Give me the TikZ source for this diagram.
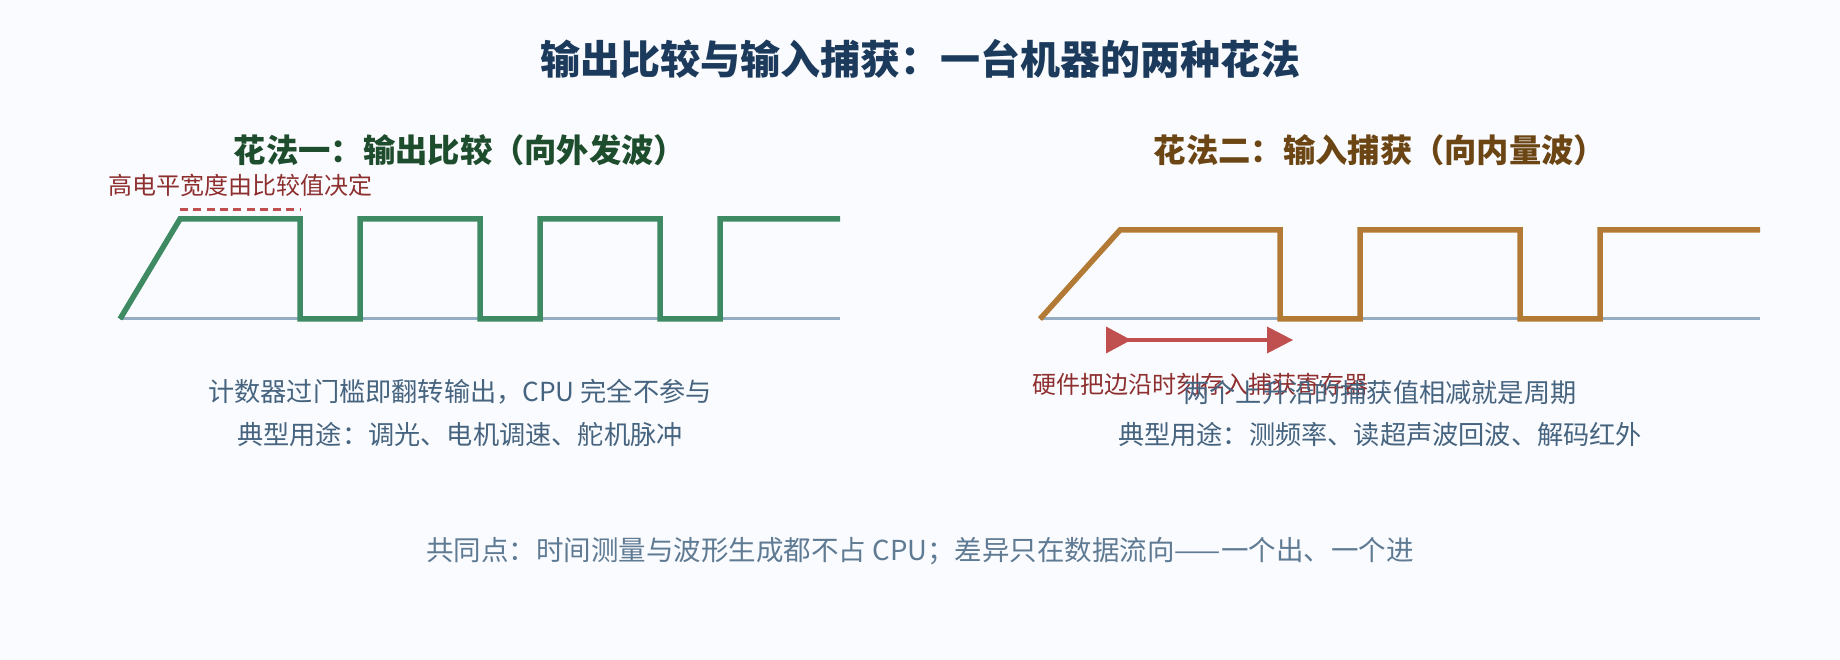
\documentclass[tikz,border=0pt]{standalone}
\usepackage{fontspec}
\setmainfont{Noto Sans CJK SC}
\definecolor{bgc}{HTML}{FAFBFE}
\definecolor{titlec}{HTML}{1B3A5C}
\definecolor{subg}{HTML}{1E4D2E}
\definecolor{subb}{HTML}{6B4513}
\definecolor{waveg}{HTML}{3E8A63}
\definecolor{waveb}{HTML}{B27A34}
\definecolor{basec}{HTML}{94ADC3}
\definecolor{redtxt}{HTML}{8E2F2F}
\definecolor{redln}{HTML}{C0504F}
\definecolor{slate}{HTML}{46647F}
\definecolor{slate2}{HTML}{5F7A93}
\tikzset{
  titletxt/.style={font=\fontsize{40}{46}\selectfont\bfseries, text=titlec, inner sep=0pt},
  subtxt/.style={font=\fontsize{32.3}{36}\selectfont\bfseries, inner sep=0pt},
  notetxt/.style={font=\fontsize{24}{28}\selectfont, text=redtxt, inner sep=0pt},
  bodytxt/.style={font=\fontsize{26.2}{30}\selectfont, text=slate, inner sep=0pt},
  foottxt/.style={font=\fontsize{27.5}{31}\selectfont, text=slate2, inner sep=0pt},
  baseln/.style={draw=basec, line width=3pt},
  wavegreen/.style={draw=waveg, line width=5.5pt, line join=miter},
  wavebrown/.style={draw=waveb, line width=5.5pt, line join=miter},
}
\begin{document}
\begin{tikzpicture}[x=1pt,y=-1pt]
\fill[bgc] (0,0) rectangle (1840,660);
\useasboundingbox (0,0) rectangle (1840,660);

\node[titletxt] (title) at (920,59) {输出比较与输入捕获：一台机器的两种花法};
\node[subtxt, text=subg] (subL) at (460,150) {花法一：输出比较（向外发波）};
\node[subtxt, text=subb] (subR) at (1380,150) {花法二：输入捕获（向内量波）};

% left waveform
\coordinate (bL0) at (120,319);
\coordinate (bL1) at (840,319);
\draw[baseln] (bL0) -- (bL1);
\draw[wavegreen] (120,319) -- (180,219) -- (300,219) -- (300,319) -- (360,319) -- (360,219)
  -- (480,219) -- (480,319) -- (540,319) -- (540,219) -- (660,219) -- (660,319)
  -- (720,319) -- (720,219) -- (840,219);
\coordinate (dA) at (180,210);
\coordinate (dB) at (300,210);
\draw[redln, line width=3pt, dash pattern=on 8pt off 5.3pt] (dA) -- (dB);
\node[notetxt] (noteL) at (240,185) {高电平宽度由比较值决定};

\node[bodytxt] (l1) at (460,392) {计数器过门槛即翻转输出，CPU 完全不参与};
\node[bodytxt] (l2) at (460,434) {典型用途：调光、电机调速、舵机脉冲};

% right waveform
\coordinate (bR0) at (1040,319);
\coordinate (bR1) at (1760,319);
\draw[baseln] (bR0) -- (bR1);
\draw[wavebrown] (1040,319) -- (1120,230) -- (1280,230) -- (1280,319) -- (1360,319) -- (1360,230)
  -- (1520,230) -- (1520,319) -- (1600,319) -- (1600,230) -- (1760,230);

\coordinate (aS) at (1106,340);
\coordinate (aE) at (1280,340);
\draw[redln, line width=4pt] (aS) -- (aE);
\fill[redln] (aS) ++(0,-13.5) -- ++(25,13.5) -- ++(-25,13.5) -- cycle;
\fill[redln] (1267,340) ++(0,-13.5) -- ++(26,13.5) -- ++(-26,13.5) -- cycle;
\node[notetxt] (noteR) at (1200,384) {硬件把边沿时刻存入捕获寄存器};

\node[bodytxt] (r1) at (1380,393) {两个上升沿的捕获值相减就是周期};
\node[bodytxt] (r2) at (1380,434) {典型用途：测频率、读超声波回波、解码红外};

\node[foottxt] (foot) at (920,551) {共同点：时间测量与波形生成都不占 CPU；差异只在数据流向——一个出、一个进};
\end{tikzpicture}
\end{document}
